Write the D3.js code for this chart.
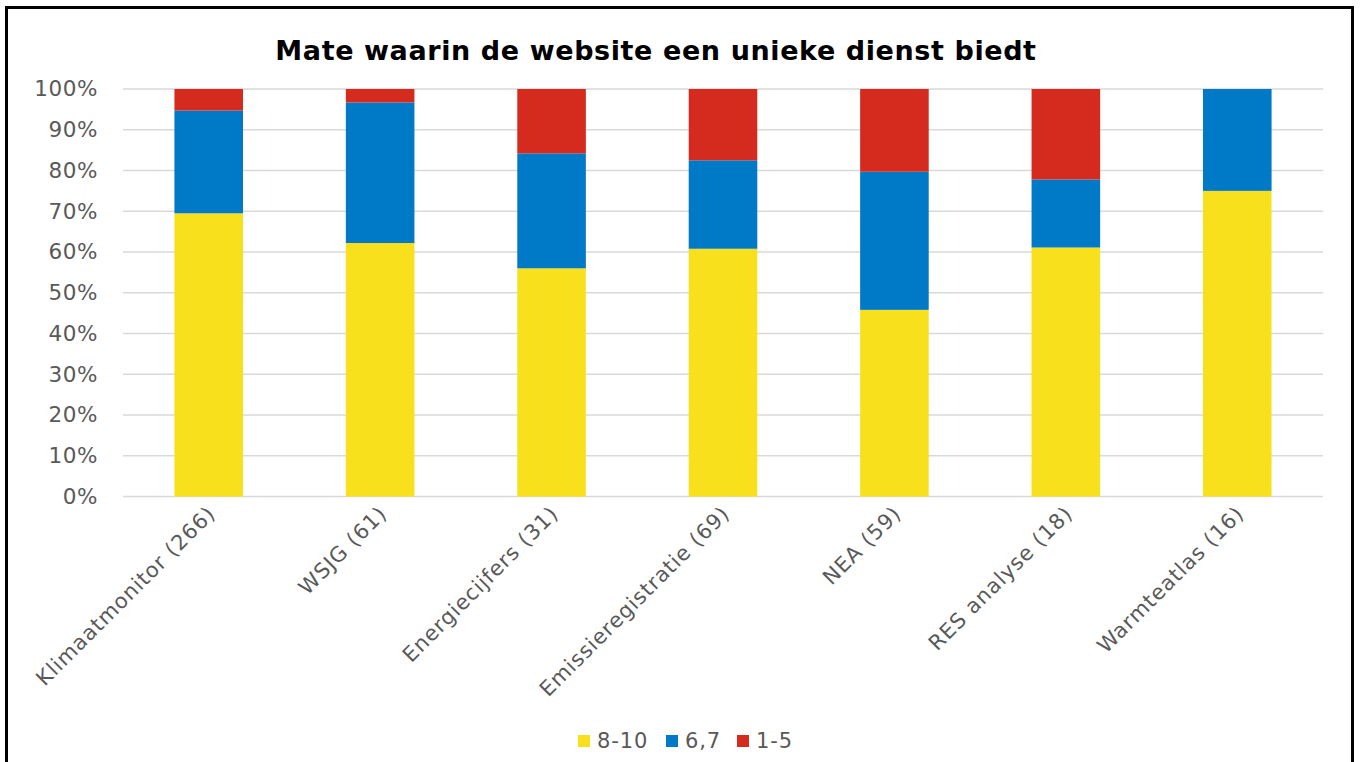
<!DOCTYPE html>
<html>
<head>
<meta charset="utf-8">
<script src="https://cdn.jsdelivr.net/npm/d3@7"></script>
<style>
  body { margin: 0; background: #fff; }
  svg { display: block; font-family: Verdana, "DejaVu Sans", sans-serif; }
</style>
</head>
<body>
<svg id="chart" width="1361" height="762"></svg>
<script>
// categories and share per score group (percent)
const categories = ["Klimaatmonitor (266)", "WSJG (61)", "Energiecijfers (31)",
  "Emissieregistratie (69)", "NEA (59)", "RES analyse (18)", "Warmteatlas (16)"];
const high = [69.5, 62.2, 56.0, 60.8, 45.8, 61.1, 75.0];   // 8-10
const mid = [25.2, 34.5, 28.2, 21.7, 33.9, 16.7, 25.0];    // 6,7
const low = [5.3, 3.3, 15.8, 17.5, 20.3, 22.2, 0.0];       // 1-5
const seriesNames = ["8-10", "6,7", "1-5"];
const colors = ["#F8E11C", "#0079C7", "#D52B1E"];
const yTicks = [0, 10, 20, 30, 40, 50, 60, 70, 80, 90, 100];

const svg = d3.select("#chart");
const W = 1361, H = 762;
const margin = {left: 123, right: 38, top: 89, bottom: 265};

// frame
svg.append("rect")
  .attr("x", 6.5).attr("y", 7.5)
  .attr("width", 1346).attr("height", 780)
  .attr("fill", "none").attr("stroke", "#000").attr("stroke-width", 3);

svg.append("text")
  .attr("x", 656).attr("y", 60)
  .attr("text-anchor", "middle")
  .attr("font-weight", "bold")
  .attr("font-size", 27)
  .attr("letter-spacing", 0.6)
  .attr("fill", "#000")
  .text("Mate waarin de website een unieke dienst biedt");

const rows = categories.map(function (c, i) {
  return {cat: c, "8-10": high[i], "6,7": mid[i], "1-5": low[i]};
});

const x = d3.scaleBand()
  .domain(categories)
  .range([margin.left, W - margin.right])
  .paddingInner(0.6)
  .paddingOuter(0.3);

const y = d3.scaleLinear()
  .domain([0, 100])
  .range([H - margin.bottom - 0.5, margin.top]);

// grid
svg.append("g")
  .selectAll("line")
  .data(yTicks)
  .enter().append("line")
  .attr("x1", margin.left).attr("x2", W - margin.right)
  .attr("y1", function (d) { return y(d); })
  .attr("y2", function (d) { return y(d); })
  .attr("stroke", "#D9D9D9")
  .attr("stroke-width", 1.5);

// y axis labels
const yAxis = svg.append("g")
  .attr("transform", "translate(" + (margin.left - 22) + ",0)")
  .call(d3.axisLeft(y).tickValues(yTicks).tickSize(0).tickFormat(function (d) { return d + "%"; }));
yAxis.select(".domain").remove();
yAxis.selectAll("text")
  .attr("font-size", 21.5)
  .attr("letter-spacing", 0.6)
  .attr("fill", "#595959")
  .attr("font-family", "Verdana, 'DejaVu Sans', sans-serif");

const stack = d3.stack().keys(seriesNames);
const layers = stack(rows);

svg.append("g")
  .selectAll("g")
  .data(layers)
  .enter().append("g")
  .attr("fill", function (d, i) { return colors[i]; })
  .selectAll("rect")
  .data(function (d) { return d; })
  .enter().append("rect")
  .attr("x", function (d) { return x(d.data.cat); })
  .attr("width", x.bandwidth())
  .attr("y", function (d) { return y(d[1]); })
  .attr("height", function (d) { return y(d[0]) - y(d[1]); });

// x axis labels, rotated
const xAxis = svg.append("g")
  .attr("transform", "translate(0," + (H - margin.bottom) + ")")
  .call(d3.axisBottom(x).tickSize(0));
xAxis.select(".domain").remove();
xAxis.selectAll("text")
  .attr("font-size", 21)
  .attr("letter-spacing", 0.9)
  .attr("fill", "#595959")
  .attr("font-family", "Verdana, 'DejaVu Sans', sans-serif")
  .attr("text-anchor", "end")
  .attr("dy", null)
  .attr("y", 0)
  .attr("transform", "translate(8,18) rotate(-45)");

// legend
const legend = svg.append("g").attr("transform", "translate(578,741)");
const legendX = [0, 88, 159];
seriesNames.forEach(function (s, i) {
  const g = legend.append("g").attr("transform", "translate(" + legendX[i] + ",0)");
  g.append("rect").attr("x", 0).attr("y", -6).attr("width", 12).attr("height", 12).attr("fill", colors[i]);
  g.append("text").attr("x", 19).attr("y", 0).attr("dy", "0.35em")
    .attr("font-size", 21).attr("letter-spacing", 0.9).attr("fill", "#595959").text(s);
});
</script>
</body>
</html>
